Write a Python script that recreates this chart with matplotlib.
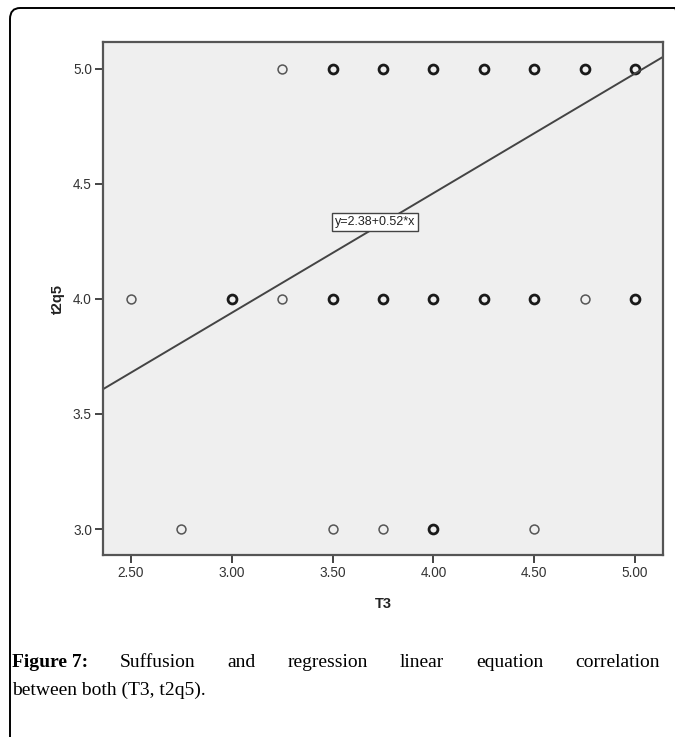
"""
Scatter of t2q5 against T3 with the fitted regression line (SPSS style),
plus the journal caption underneath.
"""
import matplotlib
matplotlib.use("Agg")

import matplotlib.pyplot as plt
import numpy as np
from matplotlib.patches import FancyBboxPatch

# observed (T3, t2q5) pairs; heavy = several cases stacked on one point
t3 = [3.25, 3.50, 3.75, 4.00, 4.25, 4.50, 4.75, 5.00,
      2.50, 3.00, 3.25, 3.50, 3.75, 4.00, 4.25, 4.50, 4.75, 5.00,
      2.75, 3.50, 3.75, 4.00, 4.50]
t2q5 = [5.0, 5.0, 5.0, 5.0, 5.0, 5.0, 5.0, 5.0,
        4.0, 4.0, 4.0, 4.0, 4.0, 4.0, 4.0, 4.0, 4.0, 4.0,
        3.0, 3.0, 3.0, 3.0, 3.0]
heavy = [False, True, True, True, True, True, True, True,
         False, True, False, True, True, True, True, True, False, True,
         False, False, False, True, False]

intercept = 2.38
slope = 0.52
fit_label = "y=2.38+0.52*x"

x_ticks = [2.5, 3.0, 3.5, 4.0, 4.5, 5.0]
x_ticklabels = ["2.50", "3.00", "3.50", "4.00", "4.50", "5.00"]
y_ticks = [3.0, 3.5, 4.0, 4.5, 5.0]
y_ticklabels = ["3.0", "3.5", "4.0", "4.5", "5.0"]

caption_bold = "Figure 7:"
caption_line1 = "Suffusion and regression linear equation correlation"
caption_line2 = "between both (T3, t2q5)."

W, H = 675, 737
fig = plt.figure(figsize=(W / 100, H / 100), dpi=100)

# outer rounded frame (right and bottom run off the page)
frame = FancyBboxPatch((10 / W, -0.05), 1.0, 1 - 8 / H + 0.05,
                       boxstyle="round,pad=0,rounding_size=0.015",
                       transform=fig.transFigure, fill=False,
                       edgecolor="black", linewidth=1.4)
fig.patches.append(frame)

ax = fig.add_axes([103 / W, 1 - 555 / H, 560 / W, 513 / H])
ax.set_facecolor("#efefef")
ax.set_xlim(2.361, 5.139)
ax.set_ylim(2.887, 5.117)

for spine in ax.spines.values():
    spine.set_color("#555555")
    spine.set_linewidth(1.6)

x = np.array(t3)
y = np.array(t2q5)
hv = np.array(heavy)
ax.plot(x[~hv], y[~hv], "o", ms=6.4, mfc="none", mec="#555555", mew=1.1)
ax.plot(x[hv], y[hv], "o", ms=6.4, mfc="none", mec="#1a1a1a", mew=2.0)

xs = np.array(ax.get_xlim())
ax.plot(xs, intercept + slope * xs, color="#444444", lw=1.4)

ax.text(3.71, 4.335, fit_label, ha="center", va="center", fontsize=9,
        family="Liberation Sans", color="#222222",
        bbox=dict(boxstyle="square,pad=0.25", fc="white", ec="#444444", lw=1))

ax.set_xticks(x_ticks)
ax.set_xticklabels(x_ticklabels)
ax.set_yticks(y_ticks)
ax.set_yticklabels(y_ticklabels)
ax.tick_params(direction="out", length=6, width=1.4, color="#444444",
               labelsize=9.8, labelcolor="#333333", pad=2)
for lab in ax.get_xticklabels() + ax.get_yticklabels():
    lab.set_family("Liberation Sans")

ax.set_xlabel("T3", fontsize=10.5, fontweight="bold", family="Liberation Sans",
              color="#222222", labelpad=12)
ax.set_ylabel("t2q5", fontsize=10.5, fontweight="bold", family="Liberation Sans",
              color="#222222", labelpad=6)

# caption, first line justified between the frame edges
fig.canvas.draw()
renderer = fig.canvas.get_renderer()
left, right = 12, 660
y1 = 1 - 667 / H
y2 = 1 - 695 / H
cap_font = dict(family="Liberation Serif", fontsize=14, color="black")

words = [(caption_bold, "bold")] + [(w, "normal") for w in caption_line1.split()]
texts = []
widths = []
for w, weight in words:
    t = fig.text(0, y1, w, fontweight=weight, va="baseline", **cap_font)
    texts.append(t)
    widths.append(t.get_window_extent(renderer).width)
gap = (right - left - sum(widths)) / (len(words) - 1)
pos = left
for t, wd in zip(texts, widths):
    t.set_x(pos / W)
    pos += wd + gap

fig.text(left / W, y2, caption_line2, va="baseline", **cap_font)

fig.savefig("out.png", dpi=100)
